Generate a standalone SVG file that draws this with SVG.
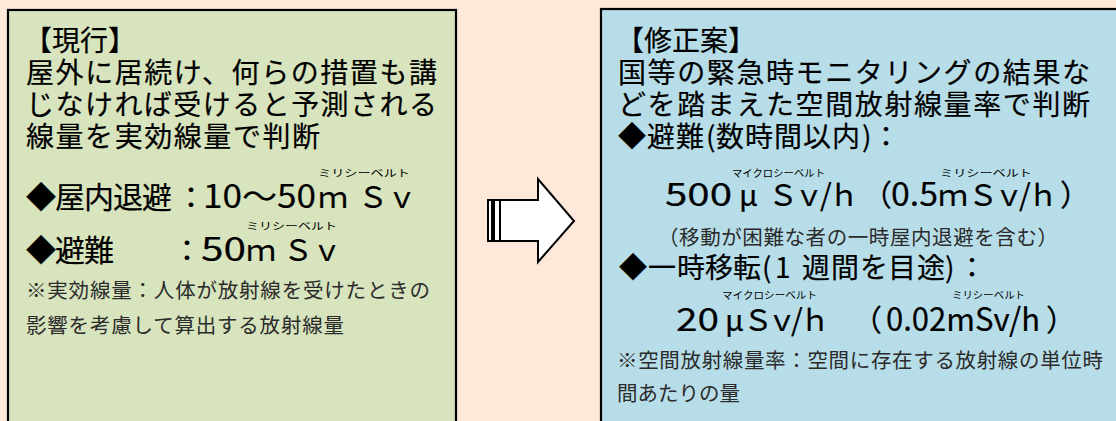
<svg xmlns="http://www.w3.org/2000/svg" width="1116" height="421" viewBox="0 0 1116 421">
<style>
.t{font-family:"Noto Sans CJK JP","Noto Sans",sans-serif;fill:#000}
.big{font-size:28px;stroke:#000;stroke-width:0.2}
.val{font-size:30px;stroke:#000;stroke-width:0.2}
.num{font-size:32px}
.fn{font-size:20.5px;fill:#2b2b2b}
.rb{font-size:10px}
.box{stroke:#000;stroke-width:2.2}
.ar{fill:#fff;stroke:#000;stroke-width:2}
</style>
<rect x="0" y="0" width="1116" height="421" fill="#FDE8DA"/>
<g id="current">
<rect class="box" x="8" y="10" width="448" height="430" fill="#D7E4BD"/>
<text class="t big" x="24" y="51">【現行】</text>
<text class="t big" x="26" y="83" textLength="411" lengthAdjust="spacing">屋外に居続け、何らの措置も講</text>
<text class="t big" x="26" y="115" textLength="411" lengthAdjust="spacing">じなければ受けると予測される</text>
<text class="t big" x="26" y="147" textLength="294" lengthAdjust="spacing">線量を実効線量で判断</text>
<text class="t rb" x="318" y="177" textLength="92" lengthAdjust="spacingAndGlyphs">ミリシーベルト</text>
<text class="t val" y="208"><tspan x="26 55 84 113 142 176">◆屋内退避：</tspan><tspan class="num" x="203" textLength="113" lengthAdjust="spacingAndGlyphs">10〜50</tspan><tspan x="318 358 387">ｍＳｖ</tspan></text>
<text class="t rb" x="246" y="230" textLength="91" lengthAdjust="spacingAndGlyphs">ミリシーベルト</text>
<text class="t val" y="261"><tspan x="26 55 84">◆避難</tspan><tspan x="172">：</tspan><tspan class="num" x="201" textLength="45" lengthAdjust="spacingAndGlyphs">50</tspan><tspan x="246 283 312">ｍＳｖ</tspan></text>
<text class="t fn" x="26" y="298" textLength="404" lengthAdjust="spacing">※実効線量：人体が放射線を受けたときの</text>
<text class="t fn" x="26" y="333" textLength="318" lengthAdjust="spacing">影響を考慮して算出する放射線量</text>
</g>
<g id="arrow">
<rect class="ar" x="488" y="200" width="4" height="41"/>
<rect class="ar" x="494" y="200" width="6" height="41"/>
<path class="ar" d="M500,200 H538 V179 L574,221 L538,262 V241 H500 Z"/>
</g>
<g id="proposal">
<rect class="box" x="601" y="9" width="600" height="430" fill="#B7DDE8"/>
<text class="t big" x="616" y="51">【修正案】</text>
<text class="t big" x="618" y="83" textLength="472" lengthAdjust="spacing">国等の緊急時モニタリングの結果な</text>
<text class="t big" x="618" y="115" textLength="472" lengthAdjust="spacing">どを踏まえた空間放射線量率で判断</text>
<text class="t big" y="147" x="618 647 676 706 716 745 774 803 832 862 872">◆避難(数時間以内)：</text>
<text class="t rb" x="732" y="177" textLength="93" lengthAdjust="spacingAndGlyphs">マイクロシーベルト</text>
<text class="t rb" x="940" y="177" textLength="92" lengthAdjust="spacingAndGlyphs">ミリシーベルト</text>
<text class="t val" y="206"><tspan class="num" x="665" textLength="67" lengthAdjust="spacingAndGlyphs">500</tspan><tspan x="739 768 794 820 829">μＳｖ/ｈ</tspan><tspan x="862">（</tspan><tspan class="num" x="891" textLength="47" lengthAdjust="spacingAndGlyphs">0.5</tspan><tspan x="938 968 994 1019 1028">ｍＳｖ/ｈ</tspan><tspan x="1060">）</tspan></text>
<text class="t fn" x="658" y="245" textLength="400" lengthAdjust="spacing">（移動が困難な者の一時屋内退避を含む）</text>
<text class="t big" y="278" x="619 648 677 705 733 762 775 787 802 831 860 888 917 945 958">◆一時移転(1 週間を目途)：</text>
<text class="t rb" x="722" y="299" textLength="95" lengthAdjust="spacingAndGlyphs">マイクロシーベルト</text>
<text class="t rb" x="952" y="299" textLength="73" lengthAdjust="spacingAndGlyphs">ミリシーベルト</text>
<text class="t val" y="331"><tspan class="num" x="676" textLength="43" lengthAdjust="spacingAndGlyphs">20</tspan><tspan x="725 743 767 791 800">μＳｖ/ｈ</tspan><tspan x="852">（</tspan><tspan class="num" x="886" textLength="154" lengthAdjust="spacingAndGlyphs">0.02mSv/h</tspan><tspan x="1046">）</tspan></text>
<text class="t fn" x="617" y="368" textLength="486" lengthAdjust="spacing">※空間放射線量率：空間に存在する放射線の単位時</text>
<text class="t fn" x="617" y="401">間あたりの量</text>
</g>
</svg>
